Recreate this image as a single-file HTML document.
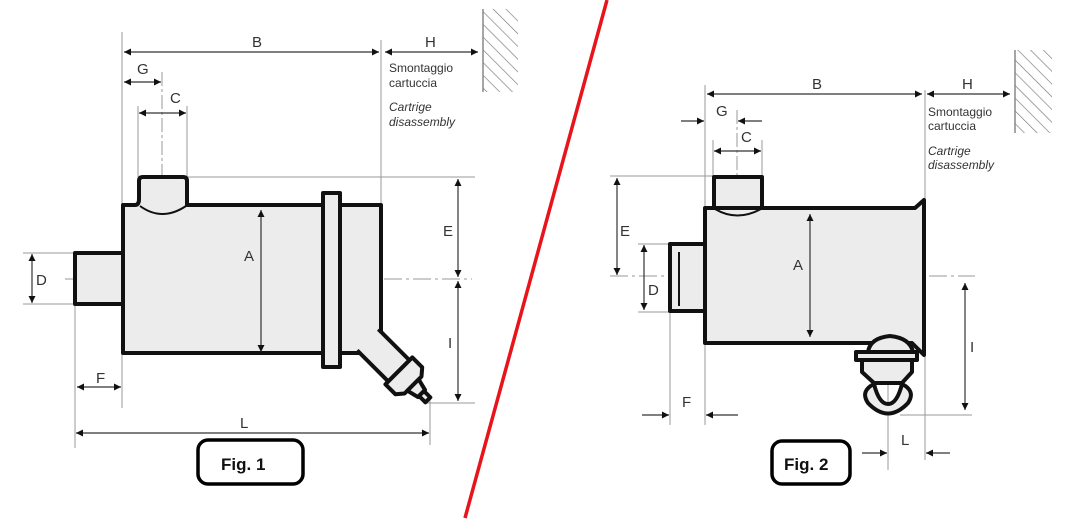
<!DOCTYPE html>
<html><head><meta charset="utf-8"><style>
html,body{margin:0;padding:0;background:#fff;}
svg{display:block;}
text{font-family:"Liberation Sans",sans-serif;fill:#333;}
</style></head><body>
<svg width="1079" height="520" viewBox="0 0 1079 520" xmlns="http://www.w3.org/2000/svg">
<defs>
<marker id="a" viewBox="0 0 10 10" refX="10" refY="5" markerWidth="9" markerHeight="7" orient="auto-start-reverse" markerUnits="userSpaceOnUse"><path d="M0,0 L10,5 L0,10 z" fill="#111"/></marker>
<pattern id="h" width="9" height="9" patternUnits="userSpaceOnUse" patternTransform="rotate(-45)"><line x1="0" y1="0" x2="0" y2="9" stroke="#777" stroke-width="1.3"/></pattern>
</defs>
<g stroke="#999" stroke-width="1" fill="none">
<line x1="122" y1="32" x2="122" y2="408"/>
<line x1="381" y1="40" x2="381" y2="205"/>
<line x1="138" y1="106" x2="138" y2="177"/>
<line x1="187" y1="106" x2="187" y2="177"/>
<line x1="187" y1="177" x2="475" y2="177"/>
<line x1="425" y1="403" x2="475" y2="403"/>
<line x1="23" y1="253" x2="75" y2="253"/>
<line x1="23" y1="304" x2="75" y2="304"/>
<line x1="75" y1="304" x2="75" y2="448"/>
<line x1="430" y1="400" x2="430" y2="445"/>
<line x1="65" y1="279" x2="472" y2="279" stroke-dasharray="18,4,3,4"/>
<line x1="162" y1="72" x2="162" y2="230" stroke-dasharray="14,3,3,3"/>
<line x1="705" y1="85" x2="705" y2="425"/>
<line x1="925" y1="90" x2="925" y2="460"/>
<line x1="713" y1="140" x2="713" y2="177"/>
<line x1="762" y1="140" x2="762" y2="177"/>
<line x1="610" y1="176" x2="714" y2="176"/>
<line x1="638" y1="244" x2="670" y2="244"/>
<line x1="638" y1="312" x2="670" y2="312"/>
<line x1="670" y1="312" x2="670" y2="425"/>
<line x1="900" y1="415" x2="972" y2="415"/>
<line x1="888" y1="385" x2="888" y2="470"/>
<line x1="610" y1="276" x2="975" y2="276" stroke-dasharray="18,4,3,4"/>
<line x1="737" y1="110" x2="737" y2="240" stroke-dasharray="14,3,3,3"/>
<line x1="888" y1="322" x2="888" y2="420" stroke-dasharray="10,3,3,3"/>
</g>
<rect x="483" y="9" width="35" height="83" fill="url(#h)"/>
<line x1="483" y1="9" x2="483" y2="92" stroke="#888" stroke-width="1.5"/>
<rect x="1015" y="50" width="37" height="83" fill="url(#h)"/>
<line x1="1015" y1="50" x2="1015" y2="133" stroke="#888" stroke-width="1.5"/>

<g stroke="#111" stroke-width="4" fill="#ececec" stroke-linejoin="round">
<rect x="75" y="253" width="48" height="51"/>
<path d="M123,353 L123,205 L135,205 Q139,205 139,199 L139,181 Q139,177 143,177 L183,177 Q187,177 187,181 L187,205 L381,205 L381,353 Z"/>
<g transform="translate(372,344) rotate(45)">
<path d="M-6,-15 L38,-15 L38,15 L-6,15" />
<path d="M38,-19 L52,-19 L58,-12 L58,12 L52,19 L38,19 Z"/>
<path d="M58,-8 L70,-5 L70,5 L58,8 Z"/>
<rect x="70" y="-3.5" width="9" height="7"/>
</g>
<rect x="323" y="193" width="17" height="174"/>
</g>
<path d="M140,206 Q162,222 186,206" stroke="#111" stroke-width="2" fill="none"/>

<g stroke="#111" stroke-width="4" fill="#ececec" stroke-linejoin="round">
<rect x="670" y="244" width="35" height="67"/>
<rect x="714" y="177" width="48" height="31"/>
<path d="M705,343 L705,208 L915,208 L924,200 L924,355 L912,343 Z"/>
<path d="M868,352 Q870,338 890,336 Q910,338 913,352 Z"/>
<rect x="856" y="352" width="61" height="8"/>
<path d="M862,360 L912,360 L912,372 L902,383 L874,383 L862,372 Z"/>
<path d="M874,384 Q860,391 868,403 Q888,424 908,403 Q916,391 902,384 Q897,404 888,404 Q879,404 874,384 Z"/>
</g>
<path d="M715,209 Q737,222 761,209" stroke="#111" stroke-width="2" fill="none"/>
<line x1="679" y1="252" x2="679" y2="306" stroke="#111" stroke-width="2"/>

<g stroke="#333" stroke-width="1.2" marker-start="url(#a)" marker-end="url(#a)">
<line x1="124" y1="52" x2="379" y2="52"/>
<line x1="385" y1="52" x2="478" y2="52"/>
<line x1="124" y1="82" x2="161" y2="82"/>
<line x1="139" y1="113" x2="186" y2="113"/>
<line x1="458" y1="179" x2="458" y2="277"/>
<line x1="458" y1="281" x2="458" y2="401"/>
<line x1="32" y1="254" x2="32" y2="303"/>
<line x1="261" y1="210" x2="261" y2="352"/>
<line x1="77" y1="387" x2="121" y2="387"/>
<line x1="76" y1="433" x2="429" y2="433"/>
<line x1="707" y1="94" x2="922" y2="94"/>
<line x1="927" y1="94" x2="1010" y2="94"/>
<line x1="714" y1="151" x2="761" y2="151"/>
<line x1="617" y1="178" x2="617" y2="275"/>
<line x1="644" y1="245" x2="644" y2="310"/>
<line x1="810" y1="214" x2="810" y2="337"/>
<line x1="965" y1="283" x2="965" y2="410"/>
</g>
<g stroke="#333" stroke-width="1.2" marker-end="url(#a)">
<line x1="681" y1="121" x2="704" y2="121"/>
<line x1="762" y1="121" x2="738" y2="121"/>
<line x1="642" y1="415" x2="669" y2="415"/>
<line x1="738" y1="415" x2="706" y2="415"/>
<line x1="862" y1="453" x2="887" y2="453"/>
<line x1="950" y1="453" x2="926" y2="453"/>
</g>

<g font-size="15">
<text x="252" y="47">B</text><text x="425" y="47">H</text>
<text x="137" y="74">G</text><text x="170" y="103">C</text>
<text x="244" y="261">A</text><text x="443" y="236">E</text>
<text x="448" y="348">I</text><text x="36" y="285">D</text>
<text x="96" y="383">F</text><text x="240" y="428">L</text>
<text x="812" y="89">B</text><text x="962" y="89">H</text>
<text x="716" y="116">G</text><text x="741" y="142">C</text>
<text x="793" y="270">A</text><text x="620" y="236">E</text>
<text x="970" y="352">I</text><text x="648" y="295">D</text>
<text x="682" y="407">F</text><text x="901" y="445">L</text>
</g>
<g font-size="12">
<text x="389" y="72">Smontaggio</text><text x="389" y="87">cartuccia</text>
<text x="389" y="111" font-style="italic">Cartrige</text><text x="389" y="126" font-style="italic">disassembly</text>
<text x="928" y="116">Smontaggio</text><text x="928" y="130">cartuccia</text>
<text x="928" y="155" font-style="italic">Cartrige</text><text x="928" y="169" font-style="italic">disassembly</text>
</g>

<rect x="198" y="440" width="105" height="44" rx="10" fill="#fff" stroke="#000" stroke-width="3.5"/>
<text x="221" y="470" font-size="17" font-weight="bold" style="fill:#111">Fig. 1</text>
<rect x="772" y="441" width="78" height="43" rx="10" fill="#fff" stroke="#000" stroke-width="3.5"/>
<text x="784" y="470" font-size="17" font-weight="bold" style="fill:#111">Fig. 2</text>

<line x1="607" y1="0" x2="465" y2="518" stroke="#e8141c" stroke-width="3.5"/>
</svg>
</body></html>
